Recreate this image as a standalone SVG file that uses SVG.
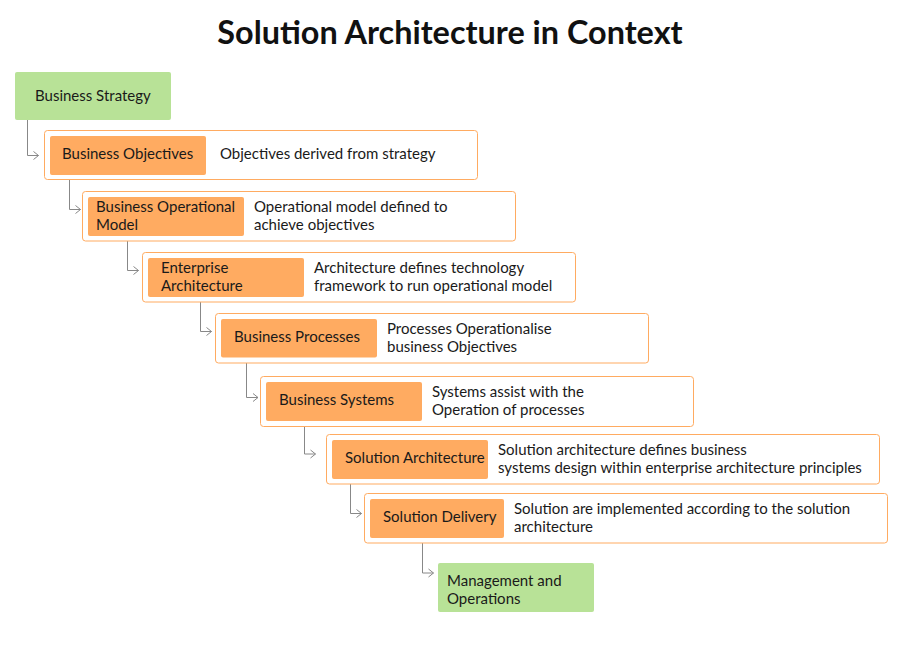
<svg xmlns="http://www.w3.org/2000/svg" width="900" height="654" viewBox="0 0 900 654">
<defs>
<marker id="arr" viewBox="0 0 10 10" refX="9" refY="5" markerWidth="10" markerHeight="10" markerUnits="userSpaceOnUse" orient="auto">
<path d="M4,1 L9,5 L4,9" fill="none" stroke="#888" stroke-width="1"/>
</marker>
<style>
text{font-family:Lato,"Open Sans","Liberation Sans",sans-serif;font-size:15px;fill:#1a1a1a}
.title{font-size:32.4px;font-weight:bold;fill:#111}
.outer{fill:#fff;stroke:#ffab61;stroke-width:1}
.inner{fill:#ffab61}
.green{fill:#b8e297}
.conn{fill:none;stroke:#888;stroke-width:1}
</style>
</defs>
<rect width="900" height="654" fill="#fff"/>
<text class="title" x="450" y="44" text-anchor="middle">Solution Architecture in Context</text>
<g id="connectors">
<path class="conn" d="M27.5,120 V155.5 H38.5" marker-end="url(#arr)"/>
<path class="conn" d="M69.5,175 V209.5 H80.5" marker-end="url(#arr)"/>
<path class="conn" d="M127.5,236 V270.5 H138.5" marker-end="url(#arr)"/>
<path class="conn" d="M200.5,297 V331.5 H211.5" marker-end="url(#arr)"/>
<path class="conn" d="M246.5,357 V397.5 H258" marker-end="url(#arr)"/>
<path class="conn" d="M304.5,421 V454 H315.5" marker-end="url(#arr)"/>
<path class="conn" d="M350.5,479 V513.5 H361.5" marker-end="url(#arr)"/>
<path class="conn" d="M422.5,538 V573 H433.5" marker-end="url(#arr)"/>
</g>
<g id="business-strategy">
<rect class="green" x="15" y="72" width="156" height="48" rx="2"/>
<text x="35" y="101">Business Strategy</text>
</g>
<g id="business-objectives">
<rect class="outer" x="44.5" y="130.5" width="433" height="49" rx="3"/>
<rect class="inner" x="50" y="136" width="156" height="39" rx="2"/>
<text x="62" y="159">Business Objectives</text>
<text x="220" y="159">Objectives derived from strategy</text>
</g>
<g id="business-operational-model">
<rect class="outer" x="82.5" y="191.5" width="433" height="49.5" rx="3"/>
<rect class="inner" x="88" y="197" width="156" height="39" rx="2"/>
<text x="96" y="212">Business Operational</text>
<text x="96" y="230">Model</text>
<text x="254" y="212">Operational model defined to</text>
<text x="254" y="230">achieve objectives</text>
</g>
<g id="enterprise-architecture">
<rect class="outer" x="142.5" y="252.5" width="433" height="49.5" rx="3"/>
<rect class="inner" x="148" y="258" width="156" height="39" rx="2"/>
<text x="161" y="273">Enterprise</text>
<text x="161" y="291">Architecture</text>
<text x="314" y="273">Architecture defines technology</text>
<text x="314" y="291">framework to run operational model</text>
</g>
<g id="business-processes">
<rect class="outer" x="215.5" y="313.5" width="433" height="49.5" rx="3"/>
<rect class="inner" x="221" y="319" width="156" height="38.5" rx="2"/>
<text x="234" y="342">Business Processes</text>
<text x="387" y="334">Processes Operationalise</text>
<text x="387" y="352">business Objectives</text>
</g>
<g id="business-systems">
<rect class="outer" x="260.5" y="376.5" width="433" height="50" rx="3"/>
<rect class="inner" x="266" y="382" width="156" height="39" rx="2"/>
<text x="279" y="405">Business Systems</text>
<text x="432" y="397">Systems assist with the</text>
<text x="432" y="415">Operation of processes</text>
</g>
<g id="solution-architecture">
<rect class="outer" x="326.5" y="434.5" width="553" height="49.5" rx="3"/>
<rect class="inner" x="332" y="440" width="156" height="39" rx="2"/>
<text x="345" y="463">Solution Architecture</text>
<text x="498" y="455">Solution architecture defines business</text>
<text x="498" y="473">systems design within enterprise architecture principles</text>
</g>
<g id="solution-delivery">
<rect class="outer" x="364.5" y="493.5" width="523" height="49.5" rx="3"/>
<rect class="inner" x="370" y="499" width="134" height="39" rx="2"/>
<text x="383" y="522">Solution Delivery</text>
<text x="514" y="514">Solution are implemented according to the solution</text>
<text x="514" y="532">architecture</text>
</g>
<g id="management-operations">
<rect class="green" x="438" y="563" width="156" height="49" rx="2"/>
<text x="447" y="586">Management and</text>
<text x="447" y="604">Operations</text>
</g>
</svg>
